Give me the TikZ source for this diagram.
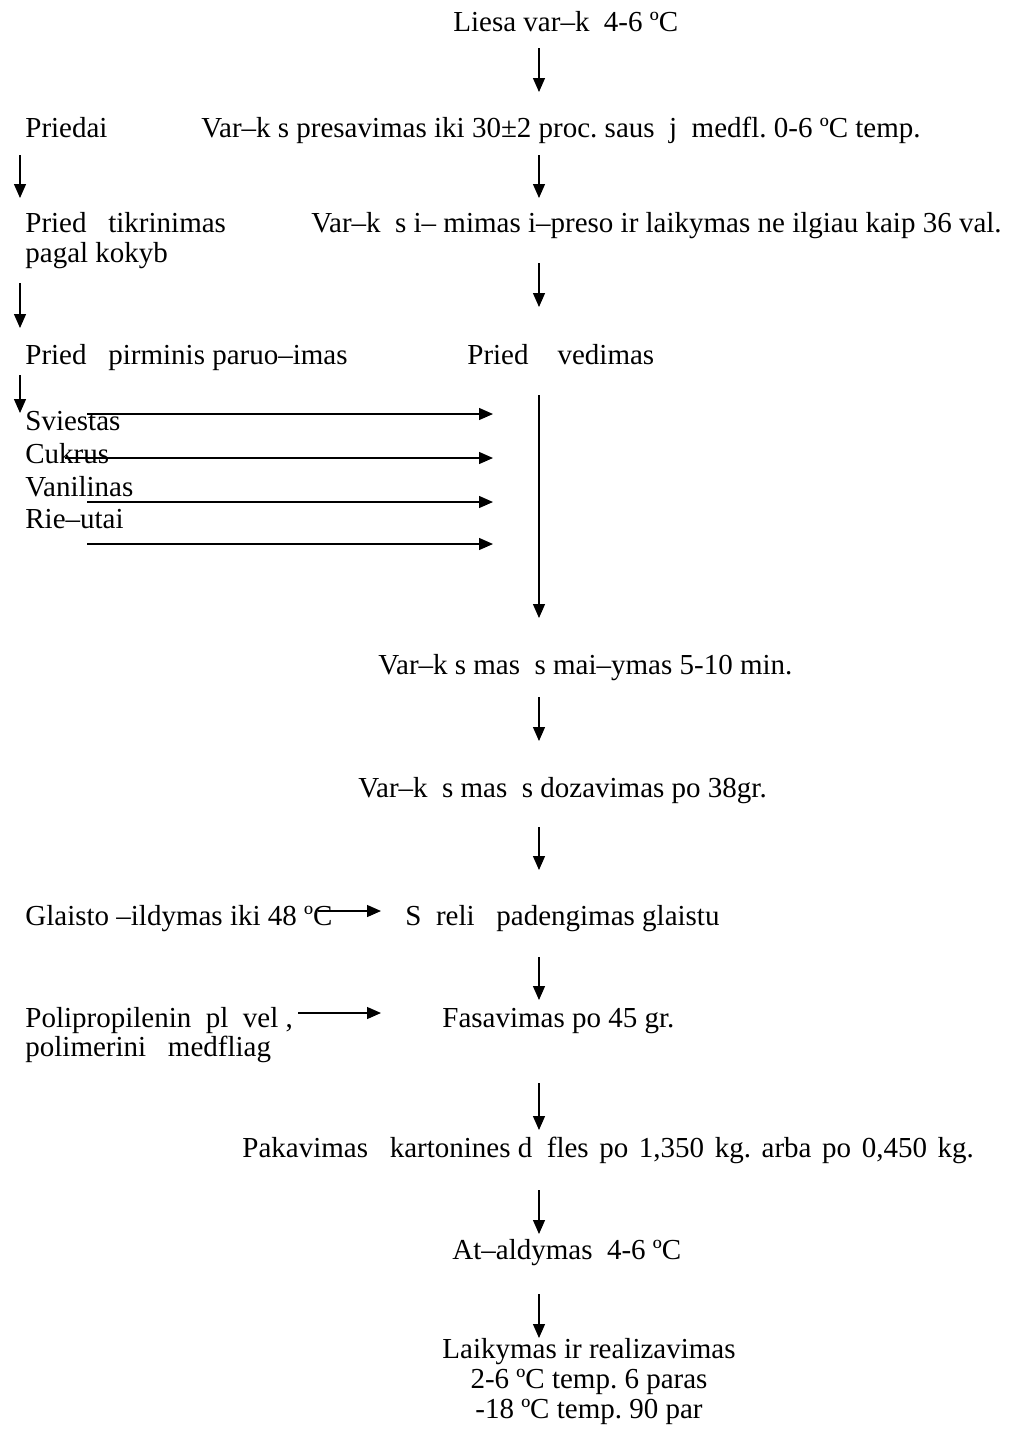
\documentclass[tikz,border=0pt]{standalone}
\usepackage{fontspec}
\setmainfont{Liberation Serif}
\usetikzlibrary{arrows.meta}
\frenchspacing
\begin{document}
\begin{tikzpicture}[x=0.5pt,y=-0.5pt,
  txt/.style={anchor=base west,inner sep=0pt,font=\fontsize{14.5}{15}\selectfont},
  ctxt/.style={anchor=north,inner sep=0pt,align=center,font=\fontsize{14.5}{15}\selectfont},
  flow/.style={-{Triangle[length=7pt,width=6pt]},line width=0.65pt}]
\useasboundingbox (0,0) rectangle (1012,1431);

% process steps
\node[txt] (milk) at (453,31) {Liesa var–k\ \ 4-6 ºC};
\node[txt] (add) at (25,137) {Priedai};
\node[txt] (press) at (201,137) {Var–k\ s presavimas iki 30±2 proc. saus\ \ j\ \ medfl. 0-6 ºC temp.};
\node[txt] (check) at (25,232) {Pried\ \ \ tikrinimas};
\node[txt] (check2) at (25,262) {pagal kokyb};
\node[txt] (store) at (311,232) {Var–k\ \ s i–\ mimas i–preso ir laikymas ne ilgiau kaip 36 val.};
\node[txt] (prep) at (25,364) {Pried\ \ \ pirminis paruo–imas};
\node[txt] (intro) at (467,364) {Pried\ \ \ \ vedimas};
\node[txt] (butter) at (25,430) {Sviestas};
\node[txt] (sugar) at (25,463) {Cukrus};
\node[txt] (van) at (25,496) {Vanilinas};
\node[txt] (nuts) at (25,528) {Rie–utai};
\node[txt] (mix) at (378,674) {Var–k\ s mas\ \ s mai–ymas 5-10 min.};
\node[txt] (dose) at (358,797) {Var–k\ \ s mas\ \ s dozavimas po 38gr.};
\node[txt] (glaze) at (25,925) {Glaisto –ildymas iki 48 ºC};
\node[txt] (coat) at (405,925) {S\ \ reli\ \ \ padengimas glaistu};
\node[txt] (film) at (25,1027) {Polipropilenin\ \ pl\ \ vel\ ,};
\node[txt] (film2) at (25,1056) {polimerini\ \ \ medfliag};
\node[txt] (pack) at (442,1027) {Fasavimas po 45 gr.};
\node[txt] (box) at (242,1157) {Pakavimas\ \ \ kartonines d\ \ fles{\spaceskip=5.3pt\ po 1,350 kg. arba po 0,450 kg.}};
\node[txt] (cool) at (452,1259) {At–aldymas\ \ 4-6 ºC};
\node[ctxt] (keep) at (589,1338) {Laikymas ir realizavimas\\2-6 ºC temp. 6 paras\\-18 ºC temp. 90 par};

% arrow end points, main column
\foreach \n/\a/\b in {m1/48/92, m2/155/198, m3/263/307, m4/395/618, m5/697/741,
                      m6/827/870, m7/957/1000, m8/1083/1130, m9/1190/1234, m10/1294/1338}{
  \coordinate (\n s) at (539,\a);
  \coordinate (\n e) at (539,\b);
}
% arrow end points, additives column
\coordinate (l1s) at (20,155); \coordinate (l1e) at (20,198);
\coordinate (l2s) at (20,283); \coordinate (l2e) at (20,328);
\coordinate (l3s) at (20,375); \coordinate (l3e) at (20,413);
% ingredient feeds
\coordinate (h1s) at (87,414);  \coordinate (h1e) at (493,414);
\coordinate (h2s) at (65,458);  \coordinate (h2e) at (493,458);
\coordinate (h3s) at (87,502);  \coordinate (h3e) at (493,502);
\coordinate (h4s) at (87,544);  \coordinate (h4e) at (493,544);
% side feeds
\coordinate (g1s) at (318,911);  \coordinate (g1e) at (381,911);
\coordinate (p1s) at (298,1013); \coordinate (p1e) at (381,1013);

\foreach \n in {m1,m2,m3,m4,m5,m6,m7,m8,m9,m10,l1,l2,l3,h1,h2,h3,h4,g1,p1}{
  \draw[flow] (\n s) -- (\n e);
}
\end{tikzpicture}
\end{document}
